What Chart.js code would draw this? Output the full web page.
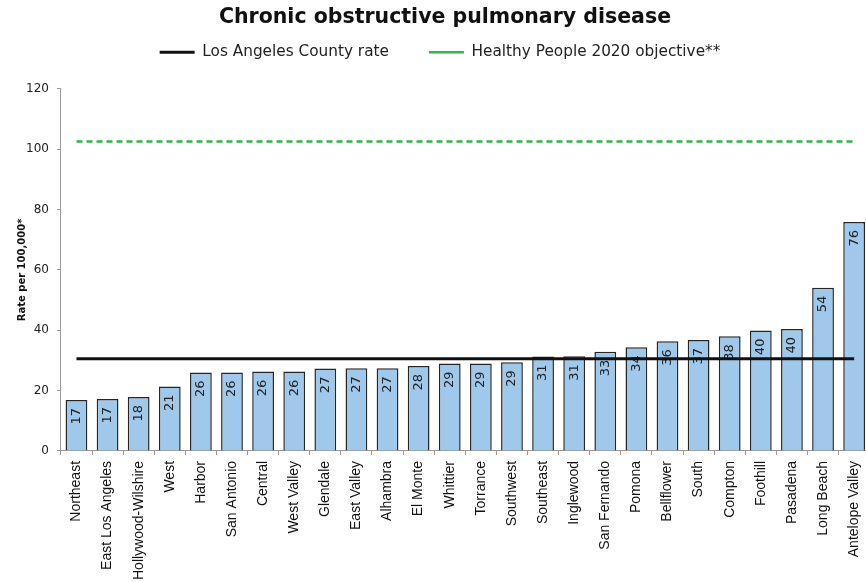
<!DOCTYPE html>
<html>
<head>
<meta charset="utf-8">
<script src="https://cdn.jsdelivr.net/npm/chart.js@4"></script>
<style>
  html, body { margin: 0; padding: 0; background: #fff; overflow: hidden; }
  #wrap { width: 866px; height: 582px; overflow: hidden; }
</style>
</head>
<body>
<div id="wrap"><canvas id="chart" width="877" height="586"></canvas></div>
<script>
// health districts, sorted by rate
var areas = ['Northeast', 'East Los Angeles', 'Hollywood-Wilshire', 'West', 'Harbor',
  'San Antonio', 'Central', 'West Valley', 'Glendale', 'East Valley', 'Alhambra',
  'El Monte', 'Whittier', 'Torrance', 'Southwest', 'Southeast', 'Inglewood',
  'San Fernando', 'Pomona', 'Bellflower', 'South', 'Compton', 'Foothill',
  'Pasadena', 'Long Beach', 'Antelope Valley'];
var rates = [16.9, 17.2, 17.9, 21.4, 26.0, 26.0, 26.3, 26.3, 27.3, 27.4, 27.4,
  28.2, 29.0, 29.0, 29.4, 31.3, 31.4, 32.9, 34.4, 36.4, 36.8, 38.0, 39.9,
  40.4, 54.1, 75.9];
var countyRate = 30.6;
var hpObjective = 102.6;
var yMin = 0, yMax = 120, yStep = 20;

var font = '"DejaVu Sans"';

// rounded value written inside the top of each bar
var barLabels = {
  id: 'barLabels',
  afterDatasetDraw: function (chart, args) {
    if (args.index !== 0) return;
    var ctx = chart.ctx;
    ctx.save();
    ctx.font = '13px ' + font;
    ctx.fillStyle = '#222';
    ctx.textAlign = 'right';
    ctx.textBaseline = 'middle';
    args.meta.data.forEach(function (bar, i) {
      ctx.save();
      ctx.translate(bar.x, bar.y + 8);
      ctx.rotate(-Math.PI / 2);
      ctx.fillText(Math.round(rates[i]), 0, 0);
      ctx.restore();
    });
    ctx.restore();
  }
};

// legend sits higher (and a touch left) compared to where chart.js puts it
var legendShift = {
  id: 'legendShift',
  afterUpdate: function (chart) {
    chart.legend.top -= 19;
    chart.legend.bottom -= 19;
    chart.legend.left -= 5;
    chart.legend.right -= 5;
  }
};

var ctx = document.getElementById('chart').getContext('2d');
var chart = new Chart(ctx, {
  data: {
    labels: areas,
    datasets: [
      {
        type: 'bar',
        label: 'Rate',
        data: rates,
        backgroundColor: '#9fc8eb',
        borderColor: '#262626',
        borderWidth: 1.5,
        barPercentage: 0.7,
        categoryPercentage: 1,
        order: 2
      },
      {
        type: 'line',
        label: 'Los Angeles County rate',
        data: areas.map(function () { return countyRate; }),
        borderColor: '#111',
        backgroundColor: '#111',
        borderWidth: 3,
        pointRadius: 0,
        pointStyle: 'line',
        order: 0
      },
      {
        type: 'line',
        label: 'Healthy People 2020 objective**',
        data: areas.map(function () { return hpObjective; }),
        borderColor: '#2fb548',
        backgroundColor: '#2fb548',
        borderWidth: 2.5,
        borderDash: [6, 4],
        pointRadius: 0,
        pointStyle: 'line',
        order: 1
      }
    ]
  },
  options: {
    responsive: false,
    animation: false,
    layout: { padding: { left: 16, right: 3, top: 0, bottom: 0 } },
    plugins: {
      title: {
        display: true,
        text: 'Chronic obstructive pulmonary disease',
        color: '#111',
        font: { family: font, size: 20.5, weight: 'bold' },
        padding: { top: 5, bottom: -6 }
      },
      legend: {
        display: true,
        position: 'top',
        labels: {
          filter: function (item) { return item.datasetIndex !== 0; },
          usePointStyle: true,
          pointStyleWidth: 35,
          color: '#222',
          font: { family: font, size: 15.3 },
          padding: 40
        }
      },
      tooltip: { enabled: false }
    },
    scales: {
      x: {
        grid: { display: true, offset: true, drawOnChartArea: false, tickLength: 4, color: '#999' },
        border: { color: '#999' },
        ticks: {
          color: '#111',
          font: { family: 'Liberation Sans', size: 14 },
          minRotation: 90,
          maxRotation: 90,
          autoSkip: false,
          padding: 6
        }
      },
      y: {
        min: yMin,
        max: yMax,
        grid: { drawOnChartArea: false, tickLength: 4, color: '#999' },
        border: { color: '#999' },
        ticks: {
          stepSize: yStep,
          color: '#222',
          font: { family: font, size: 12 },
          padding: 8
        },
        title: {
          display: true,
          text: 'Rate per 100,000*',
          color: '#111',
          font: { family: font, size: 10, weight: 'bold' },
          padding: { top: 0, bottom: -10 }
        }
      }
    }
  },
  plugins: [barLabels, legendShift]
});
</script>
</body>
</html>
